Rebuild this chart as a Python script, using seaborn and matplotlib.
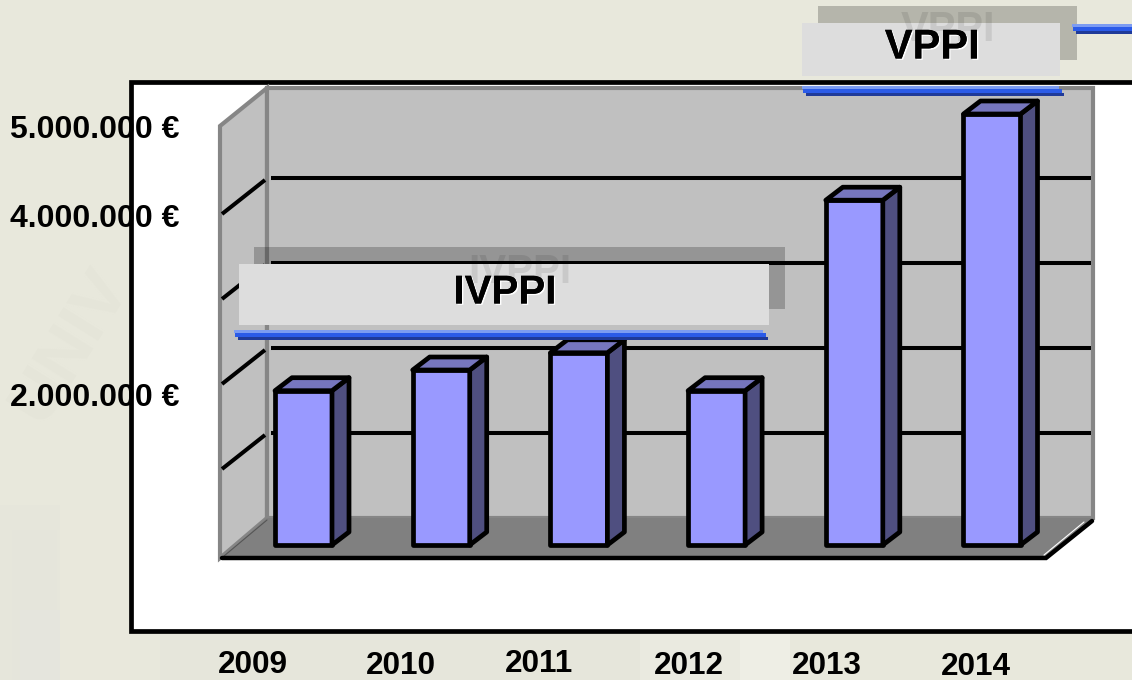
#!/usr/bin/env python3
"""Investment per year, drawn as a fake 3D bar chart on a slide background."""
import matplotlib
matplotlib.use('Agg')

import matplotlib.patheffects as pe
import matplotlib.pyplot as plt
import pandas as pd
import seaborn as sns
from matplotlib.patches import Polygon, Rectangle

# Values
years = ['2009', '2010', '2011', '2012', '2013', '2014']
investment = [1790000, 2030000, 2230000, 1790000, 4000000, 5000000]
grid_values = [1000000, 2000000, 3000000, 4000000]
y_labels = ['5.000.000 €', '4.000.000 €', '2.000.000 €']
programmes = ['IVPPI', 'VPPI']

BG = '#E8E8DC'
WALL = '#C0C0C0'
WALL_EDGE = '#868686'
FLOOR = '#808080'
FRONT = '#9999FF'
TOP = '#7676BE'
SIDE = '#4F4F80'

W, H = 1132, 680
PX_PER_UNIT = 85 / 1e6  # back wall scale
FONT = 'Liberation Sans'


def pixel_axes(fig, zorder):
    """Full figure axes that works in image pixels."""
    ax = fig.add_axes([0, 0, 1, 1], zorder=zorder)
    ax.set_xlim(0, W)
    ax.set_ylim(H, 0)
    ax.axis('off')
    ax.patch.set_alpha(0)
    return ax


def draw_background(ax):
    """Slide background, with the faint watermark shapes."""
    ax.add_patch(Rectangle((0, 0), W, H, fc=BG, ec='none'))
    ax.add_patch(Rectangle((0, 505), 60, 175, fc='#E6E6DB', ec='none'))
    ax.add_patch(Rectangle((12, 530), 45, 150, fc='#E5E5DB', ec='none'))
    ax.add_patch(Rectangle((20, 610), 40, 70, fc='#E5E5DD', ec='none'))
    ax.add_patch(Rectangle((60, 510), 70, 170, fc='#E9E8DC', ec='none'))
    ax.add_patch(Rectangle((160, 632), 480, 48, fc='#E6E6DB', ec='none'))
    ax.add_patch(Rectangle((640, 632), 100, 48, fc='#EAEAE0', ec='none'))
    ax.add_patch(Rectangle((740, 632), 50, 48, fc='#EEEEE5', ec='none'))
    ax.text(70, 345, 'UNIV', fontsize=50, rotation=58, color='#E5E5D9',
            ha='center', va='center', family=FONT, fontweight='bold')


def draw_box(ax):
    """White chart frame plus the walls, grid and floor behind the bars."""
    ax.add_patch(Rectangle((131, 82), W, 549, fc='white', ec='black', lw=3.4))

    ax.add_patch(Polygon([(220, 126), (267, 88), (267, 518), (220, 558)],
                         fc=WALL, ec=WALL_EDGE, lw=3))
    ax.add_patch(Rectangle((267, 88), 826, 430, fc=WALL, ec=WALL_EDGE, lw=3))
    ax.add_patch(Polygon([(222, 558), (267, 518), (1093, 518), (1046, 558)],
                         fc=FLOOR, ec='none'))
    ax.plot([224, 267], [556, 520], color='#555555', lw=0.8)

    for value in grid_values:
        y = 518 - value * PX_PER_UNIT
        ax.plot([271, 1091], [y, y], color='black', lw=2.9, solid_capstyle='butt')
        ax.plot([222, 265], [y + 36, y + 2], color='black', lw=2.9,
                solid_capstyle='butt')

    ax.plot([222, 1046, 1092], [558, 558, 521], color='black', lw=3.2,
            solid_joinstyle='miter')
    ax.plot([1044, 1084], [555, 522], color='white', lw=0.8)


def draw_bars(fig):
    """Bars from seaborn, with side and top faces added on each one."""
    ax = fig.add_axes([234.65 / W, (H - 545) / H, 826.2 / W, 500 / H], zorder=2)
    df = pd.DataFrame({'year': years, 'investment': investment})
    sns.barplot(data=df, x='year', y='investment', ax=ax, color=FRONT,
                saturation=1, width=0.414, edgecolor='black', linewidth=3.4)
    ax.set_xlim(-0.5, 5.5)
    ax.set_ylim(0, 500 / 86.2 * 1e6)
    ax.axis('off')
    ax.patch.set_alpha(0)

    dx = 17 / (826.2 / 6)
    dy = 13 / 86.2 * 1e6
    for bar in list(ax.patches):
        bar.set_joinstyle('round')
        bar.set_clip_on(False)
        x0, x1 = bar.get_x(), bar.get_x() + bar.get_width()
        h = bar.get_height()
        ax.add_patch(Polygon([(x1, 0), (x1 + dx, dy), (x1 + dx, h + dy), (x1, h)],
                             fc=SIDE, ec='black', lw=3.4, joinstyle='round',
                             clip_on=False))
        ax.add_patch(Polygon([(x0, h), (x0 + dx, h + dy), (x1 + dx, h + dy), (x1, h)],
                             fc=TOP, ec='black', lw=3.4, joinstyle='round',
                             clip_on=False))


def blue_rule(ax, x0, x1, y):
    """Three tone blue rule under a caption."""
    ax.add_patch(Rectangle((x0, y), x1 - x0 - 5, 3, fc='#7C9CF2', ec='none'))
    ax.add_patch(Rectangle((x0 + 1, y + 3), x1 - x0 - 3, 4, fc='#2B5BE8', ec='none'))
    ax.add_patch(Rectangle((x0 + 4, y + 7), x1 - x0 - 4, 3, fc='#1F3A99', ec='none'))


def draw_caption(ax, label, box, shadow, rule, size, ghost_shift):
    """Grey caption box with its drop shadow and ghost text."""
    sx, sy, sw, sh = shadow
    ax.add_patch(Rectangle((sx, sy), sw, sh, fc='black', alpha=0.22, ec='none'))
    ax.text(sx + sw / 2, sy + sh / 2 + ghost_shift, label, fontsize=size, color='black',
            alpha=0.09, ha='center', va='center', family=FONT, fontweight='bold')

    bx, by, bw, bh = box
    ax.add_patch(Rectangle((bx, by), bw, bh, fc='#DDDDDD', ec='none'))
    ax.text(bx + bw / 2 + 1, by + bh / 2 - 2, label, fontsize=size, color='black',
            ha='center', va='center', family=FONT, fontweight='bold',
            path_effects=[pe.withSimplePatchShadow(offset=(1, -1), shadow_rgbFace='white',
                                                   alpha=1.0), pe.Normal()])
    blue_rule(ax, *rule)


def draw_labels(ax):
    """Axis labels, placed by hand as on the slide."""
    for label, y in zip(y_labels, [129.5, 219, 398]):
        ax.text(10, y, label, fontsize=23, color='black', ha='left', va='center',
                family=FONT, fontweight='bold')
    for year, x, y in zip(years, [253, 401, 539, 689, 827, 976],
                          [665, 666.5, 664.5, 666, 666, 667]):
        ax.text(x, y, year, fontsize=22.7, color='black', ha='center', va='center',
                family=FONT, fontweight='bold')


def main():
    sns.set_theme(style='white')
    fig = plt.figure(figsize=(W / 100, H / 100), dpi=100, facecolor=BG)

    back = pixel_axes(fig, 1)
    draw_background(back)
    draw_box(back)

    draw_bars(fig)

    front = pixel_axes(fig, 3)
    draw_caption(front, programmes[0], (239, 264, 530, 61), (254, 247, 531, 62),
                 (234, 768, 330), 29, -6)
    draw_caption(front, programmes[1], (802, 23, 258, 53), (818, 6, 259, 54),
                 (802, 1064, 86), 30, -3)
    blue_rule(front, 1072, 1140, 24)
    draw_labels(front)

    fig.savefig('out.png', dpi=100, facecolor=fig.get_facecolor())
    plt.close(fig)


if __name__ == '__main__':
    main()
